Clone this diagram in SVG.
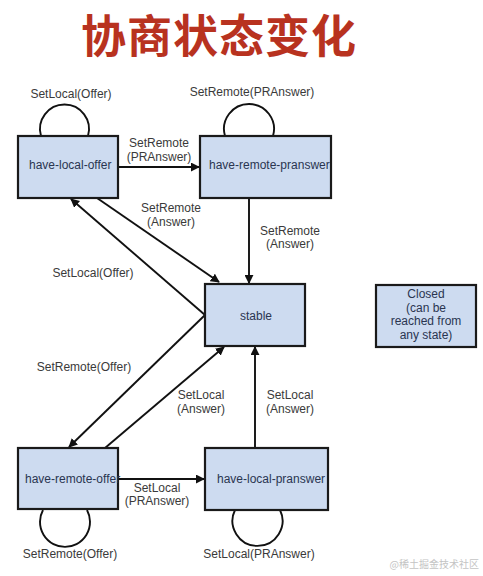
<svg xmlns="http://www.w3.org/2000/svg" width="483" height="576" viewBox="0 0 483 576">
<defs>
<marker id="ah" viewBox="0 0 10 10" refX="9" refY="5" markerWidth="9" markerHeight="9" markerUnits="userSpaceOnUse" orient="auto">
<path d="M0 0 L10 5 L0 10 Z" fill="#111"/>
</marker>
<style>
.box{fill:#cddbf0;stroke:#1a1a1a;stroke-width:2.2}
.bt{font-family:"Liberation Sans",Arial,sans-serif;font-size:12px;fill:#2a3550}
.lb{font-family:"Liberation Sans",Arial,sans-serif;font-size:12px;fill:#3a3a3a;text-anchor:middle}
.ln{fill:none;stroke:#111;stroke-width:1.9}
.ar{marker-end:url(#ah)}
.title{font-family:"Noto Sans CJK SC","Noto Sans CJK TC",sans-serif;font-weight:bold;font-size:45px;letter-spacing:1px;fill:#b8321f;text-anchor:middle}
</style>
</defs>
<rect width="483" height="576" fill="#ffffff"/>
<text class="title" x="219" y="53">协商状态变化</text>

<g id="connectors">
<path class="ln" d="M41 136 A24.5 24.5 0 1 1 88 136"/>
<path class="ln" d="M225 136 A25 25 0 1 1 273 136"/>
<path class="ln" d="M43 510 A25 25 0 1 0 87 510"/>
<path class="ln" d="M235 510 A25 25 0 1 0 280 510"/>
<path class="ln ar" d="M118 167 L199 167"/>
<path class="ln ar" d="M249 198 L249 283"/>
<path class="ln ar" d="M205 315 L71 199"/>
<path class="ln ar" d="M97 198 L219 282"/>
<path class="ln ar" d="M205 315 L69 447"/>
<path class="ln ar" d="M105 448 L224 347"/>
<path class="ln ar" d="M118 479 L204 479"/>
<path class="ln ar" d="M255 448 L255 347"/>
<text class="lb" x="71" y="98">SetLocal(Offer)</text>
<text class="lb" x="252" y="96">SetRemote(PRAnswer)</text>
<text class="lb" x="159" y="147">SetRemote</text>
<text class="lb" x="159" y="161">(PRAnswer)</text>
<text class="lb" x="171" y="212">SetRemote</text>
<text class="lb" x="171" y="226">(Answer)</text>
<text class="lb" x="290" y="235">SetRemote</text>
<text class="lb" x="290" y="248">(Answer)</text>
<text class="lb" x="93" y="277">SetLocal(Offer)</text>
<text class="lb" x="84" y="371">SetRemote(Offer)</text>
<text class="lb" x="201" y="399">SetLocal</text>
<text class="lb" x="201" y="413">(Answer)</text>
<text class="lb" x="290" y="399">SetLocal</text>
<text class="lb" x="290" y="413">(Answer)</text>
<text class="lb" x="157" y="492">SetLocal</text>
<text class="lb" x="157" y="505">(PRAnswer)</text>
<text class="lb" x="70" y="558">SetRemote(Offer)</text>
<text class="lb" x="259" y="558">SetLocal(PRAnswer)</text>
</g>

<g id="have-local-offer">
<rect class="box" x="18" y="136" width="100" height="62"/>
<text class="bt" x="29" y="169">have-local-offer</text>
</g>
<g id="have-remote-pranswer">
<rect class="box" x="200" y="136" width="131" height="62"/>
<text class="bt" x="209" y="169">have-remote-pranswer</text>
</g>
<g id="stable">
<rect class="box" x="205" y="284" width="100" height="62"/>
<text class="bt" x="256" y="320" text-anchor="middle">stable</text>
</g>
<g id="closed">
<rect class="box" x="376" y="285" width="100" height="62"/>
<text class="bt" x="426" y="298" text-anchor="middle">Closed</text>
<text class="bt" x="426" y="312" text-anchor="middle">(can be</text>
<text class="bt" x="426" y="325" text-anchor="middle">reached from</text>
<text class="bt" x="426" y="339" text-anchor="middle">any state)</text>
</g>
<g id="have-remote-offer">
<rect class="box" x="18" y="448" width="100" height="61"/>
<text class="bt" x="25" y="483">have-remote-offer</text>
</g>
<g id="have-local-pranswer">
<rect class="box" x="205" y="448" width="123" height="62"/>
<text class="bt" x="217" y="483">have-local-pranswer</text>
</g>
<text x="479" y="568" text-anchor="end" font-family="Noto Sans CJK SC,sans-serif" font-size="10" fill="#c4c4c4">@稀土掘金技术社区</text>
</svg>
